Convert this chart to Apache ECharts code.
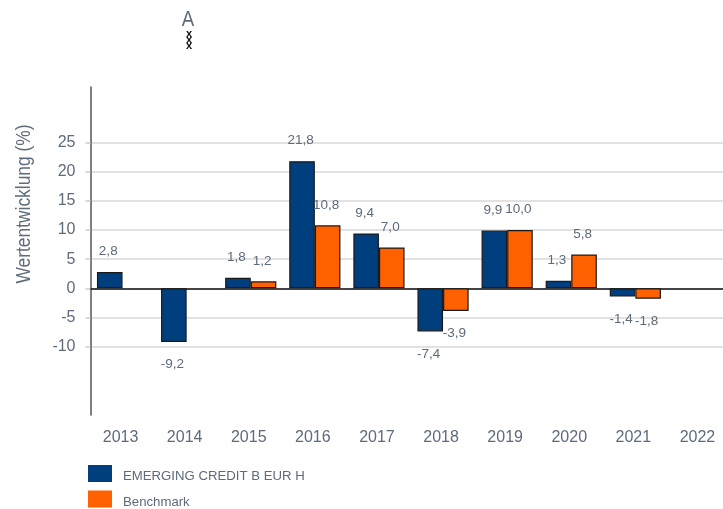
<!DOCTYPE html>
<html>
<head>
<meta charset="utf-8">
<style>html,body{margin:0;padding:0;background:#fff}#main{width:723px;height:509px}</style>
<script src="https://cdn.jsdelivr.net/npm/echarts@6/dist/echarts.min.js"></script>
</head>
<body>
<div id="main"></div>
<script>
var years = ['2013', '2014', '2015', '2016', '2017', '2018', '2019', '2020', '2021', '2022'];
var fonds = [2.8, -9.2, 1.8, 21.8, 9.4, -7.4, 9.9, 1.3, -1.4, null];
var benchmark = [null, null, 1.2, 10.8, 7.0, -3.9, 10.0, 5.8, -1.8, null];
var yTicks = [-10, -5, 0, 5, 10, 15, 20, 25];
var seriesNames = ['EMERGING CREDIT B EUR H', 'Benchmark'];

var textColor = '#5d6b7c';
var fontName = '"Liberation Sans", Arial, sans-serif';

function fmt(params) {
	return params.value.toFixed(1).replace('.', ',');
}

function barSeries(name, data, color) {
	return {
		name: name,
		type: 'bar',
		// negative labels sit a bit lower in the original
		data: data.map(function(v) {
			return {value: v, label: {offset: [-1.5, v < 0 ? 2 : 0]}};
		}),
		barGap: 0,
		barWidth: 25.6,
		itemStyle: {color: color, borderColor: '#1a1a1a', borderWidth: 1.2},
		label: {
			show: true,
			position: 'outside',
			distance: 13.5,
			formatter: fmt,
			color: textColor,
			fontSize: 13.5,
			fontFamily: fontName
		}
	};
}

var myChart = echarts.init(document.getElementById('main'));
myChart.setOption({
	backgroundColor: '#fff',
	animation: false,
	grid: {left: 90.5, width: 641, top: 87, height: 328, outerBoundsMode: 'none'},
	legend: {
		left: 88,
		top: 465,
		height: 60,
		padding: 0,
		orient: 'vertical',
		itemWidth: 24,
		itemHeight: 17,
		itemGap: 7.5,
		icon: 'rect',
		data: seriesNames,
		itemStyle: {borderWidth: 0},
		formatter: '{t|{name}}',
		textStyle: {
			rich: {
				t: {color: textColor, fontSize: 13.2, fontFamily: fontName, padding: [6, 0, 0, 6]}
			}
		}
	},
	xAxis: [
		{
			type: 'category',
			data: years,
			position: 'bottom',
			axisLine: {show: false, onZero: false},
			axisTick: {show: false},
			axisLabel: {color: textColor, fontSize: 16, fontFamily: fontName, margin: 15, padding: [0, 4, 0, 0]}
		},
		{
			type: 'category',
			data: years,
			position: 'top',
			axisLine: {show: true, onZero: true, lineStyle: {color: '#111', width: 1.5}},
			axisTick: {show: false},
			axisLabel: {show: false}
		}
	],
	yAxis: {
		type: 'value',
		min: -21.73,
		max: 34.53,
		axisLine: {show: true, onZero: false, lineStyle: {color: '#555', width: 1.5}},
		axisTick: {show: true, customValues: yTicks, length: 5, lineStyle: {color: '#ccc', width: 1.5}},
		axisLabel: {customValues: yTicks, color: textColor, fontSize: 16, fontFamily: fontName, margin: 15},
		splitLine: {show: true, lineStyle: {color: '#d9d9d9', width: 1.5}}
	},
	graphic: [
		{
			type: 'text',
			x: 24,
			y: 204,
			rotation: Math.PI / 2,
			scaleX: 0.87,
			style: {text: 'Wertentwicklung (%)', fill: textColor, font: '20px ' + fontName, align: 'center', verticalAlign: 'middle'}
		},
		{
			type: 'text',
			x: 188,
			y: 20,
			scaleX: 0.85,
			style: {text: 'A', fill: textColor, font: '22px ' + fontName, align: 'center', verticalAlign: 'middle'}
		},
		{
			type: 'text',
			x: 189,
			y: 40,
			style: {text: 'x\nx\nx', fill: '#111', font: 'bold 11px ' + fontName, lineHeight: 6, align: 'center', verticalAlign: 'middle'}
		}
	],
	series: [
		barSeries(seriesNames[0], fonds, '#003f7d'),
		barSeries(seriesNames[1], benchmark, '#ff6000')
	]
});
</script>
</body>
</html>
